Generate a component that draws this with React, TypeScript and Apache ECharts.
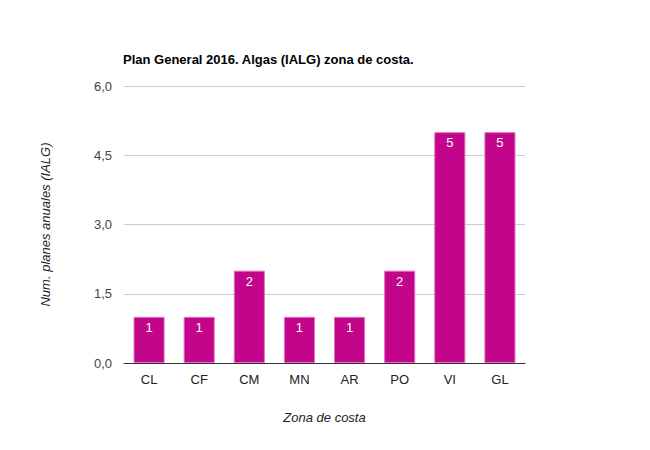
import React, { useEffect, useRef } from "react";
import * as echarts from "echarts";

const categories = ["CL", "CF", "CM", "MN", "AR", "PO", "VI", "GL"];
const values = [1, 1, 2, 1, 1, 2, 5, 5];
const titleText = "Plan General 2016. Algas (IALG) zona de costa.";
const yAxisName = "Num. planes anuales (IALG)";
const xAxisName = "Zona de costa";

export default function App() {
  const ref = useRef<HTMLDivElement>(null);
  useEffect(() => {
    if (!ref.current) return;
    const chart = echarts.init(ref.current, null, { renderer: "svg" });
    const font = "Arial, 'Liberation Sans', sans-serif";
    chart.setOption({
      animation: false,
      textStyle: { fontFamily: font },
      title: {
        text: titleText,
        left: 118,
        top: 48,
        textStyle: { fontSize: 13, fontWeight: "bold", color: "#000", fontFamily: font },
      },
      grid: { left: 124, right: 125, top: 86, bottom: 87, containLabel: false },
      xAxis: {
        type: "category",
        data: categories,
        name: xAxisName,
        nameLocation: "middle",
        nameGap: 48,
        nameTextStyle: { fontStyle: "italic", fontSize: 13, color: "#222", fontFamily: font },
        axisLine: { lineStyle: { color: "#333", width: 1 } },
        axisTick: { show: false },
        axisLabel: { color: "#222", fontSize: 13, margin: 10, fontFamily: font },
      },
      yAxis: {
        type: "value",
        min: 0,
        max: 6,
        interval: 1.5,
        name: yAxisName,
        nameLocation: "middle",
        nameGap: 72,
        nameTextStyle: { fontStyle: "italic", fontSize: 13, color: "#222", fontFamily: font },
        axisLine: { show: false },
        axisTick: { show: false },
        splitLine: { lineStyle: { color: "#ccc" } },
        axisLabel: {
          color: "#444",
          fontSize: 13,
          margin: 12,
          fontFamily: font,
          formatter: (v: number) => v.toFixed(1).replace(".", ","),
        },
      },
      series: [
        {
          type: "bar",
          data: values,
          barWidth: "62%",
          itemStyle: { color: "#c2058a", borderColor: "#e070c0", borderWidth: 1 },
          label: {
            show: true,
            position: "insideTop",
            distance: 4,
            color: "#fff",
            fontSize: 13,
            fontFamily: font,
          },
        },
      ],
    });
    return () => chart.dispose();
  }, []);
  return <div ref={ref} style={{ width: 650, height: 450, position: "absolute", left: 0, top: 0 }} />;
}
